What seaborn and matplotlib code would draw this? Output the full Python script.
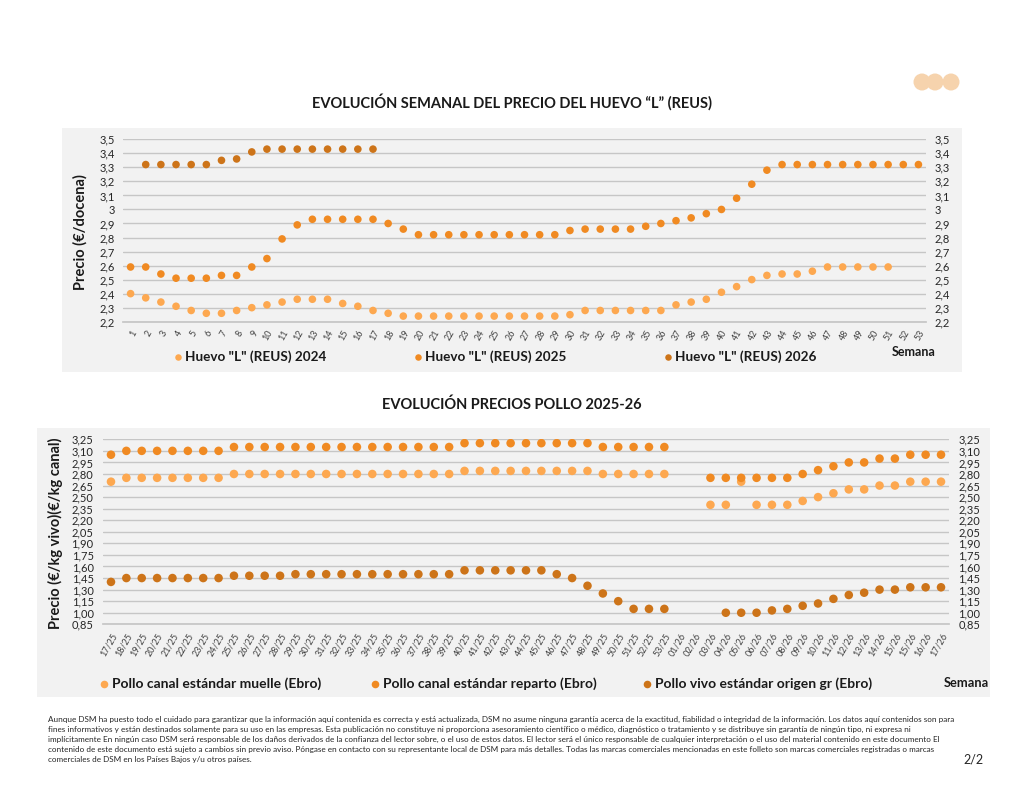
import numpy as np
import pandas as pd
import matplotlib.pyplot as plt
from matplotlib.patches import Rectangle, Circle
import seaborn as sns

nan = np.nan

# --- DATOS: HUEVO "L" (REUS) ---
semanas = [str(i) for i in range(1, 54)]
huevo_2024 = [2.40, 2.37, 2.34, 2.31, 2.28, 2.26, 2.26, 2.28, 2.30, 2.32, 2.34, 2.36, 2.36, 2.36, 2.33, 2.31, 2.28, 2.26,
              2.24, 2.24, 2.24, 2.24, 2.24, 2.24, 2.24, 2.24, 2.24, 2.24, 2.24, 2.25,
              2.28, 2.28, 2.28, 2.28, 2.28, 2.28, 2.32, 2.34, 2.36, 2.41, 2.45, 2.50, 2.53, 2.54, 2.54, 2.56,
              2.59, 2.59, 2.59, 2.59, 2.59, nan, nan]
huevo_2025 = [2.59, 2.59, 2.54, 2.51, 2.51, 2.51, 2.53, 2.53, 2.59, 2.65, 2.79, 2.89, 2.93, 2.93, 2.93, 2.93, 2.93,
              2.90, 2.86, 2.82, 2.82, 2.82, 2.82, 2.82, 2.82, 2.82, 2.82, 2.82, 2.82, 2.85,
              2.86, 2.86, 2.86, 2.86, 2.88, 2.90, 2.92, 2.94, 2.97, 3.00, 3.08, 3.18, 3.28,
              3.32, 3.32, 3.32, 3.32, 3.32, 3.32, 3.32, 3.32, 3.32, 3.32]
huevo_2026 = [nan, 3.32, 3.32, 3.32, 3.32, 3.32, 3.35, 3.36, 3.41, 3.43, 3.43, 3.43, 3.43, 3.43, 3.43, 3.43, 3.43] + [nan] * 36
huevo_series = ['Huevo "L" (REUS) 2024', 'Huevo "L" (REUS) 2025', 'Huevo "L" (REUS) 2026']
huevo_yticks = [2.2, 2.3, 2.4, 2.5, 2.6, 2.7, 2.8, 2.9, 3.0, 3.1, 3.2, 3.3, 3.4, 3.5]
huevo_ylabels = ["2,2", "2,3", "2,4", "2,5", "2,6", "2,7", "2,8", "2,9", "3", "3,1", "3,2", "3,3", "3,4", "3,5"]

# --- DATOS: POLLO 2025-26 ---
semanas_pollo = ["17/25", "18/25", "19/25", "20/25", "21/25", "22/25", "23/25", "24/25", "25/25", "26/25",
                 "27/25", "28/25", "29/25", "30/25", "31/25", "32/25", "33/25", "34/25", "35/25", "36/25",
                 "37/25", "38/25", "39/25", "40/25", "41/25", "42/25", "43/25", "44/25", "45/25", "46/25",
                 "47/25", "48/25", "49/25", "50/25", "51/25", "52/25", "53/25", "01/26", "02/26", "03/26",
                 "04/26", "05/26", "06/26", "07/26", "08/26", "09/26", "10/26", "11/26", "12/26", "13/26",
                 "14/26", "15/26", "15/26", "16/26", "17/26"]
pollo_muelle = [2.70, 2.75, 2.75, 2.75, 2.75, 2.75, 2.75, 2.75,
                2.80, 2.80, 2.80, 2.80, 2.80, 2.80, 2.80, 2.80, 2.80, 2.80, 2.80, 2.80, 2.80, 2.80, 2.80,
                2.84, 2.84, 2.84, 2.84, 2.84, 2.84, 2.84, 2.84, 2.84,
                2.80, 2.80, 2.80, 2.80, 2.80, nan, nan,
                2.40, 2.40, 2.70, 2.40, 2.40, 2.40, 2.45, 2.50, 2.55, 2.60, 2.60, 2.65, 2.65, 2.70, 2.70, 2.70]
pollo_reparto = [3.05, 3.10, 3.10, 3.10, 3.10, 3.10, 3.10, 3.10,
                 3.15, 3.15, 3.15, 3.15, 3.15, 3.15, 3.15, 3.15, 3.15, 3.15, 3.15, 3.15, 3.15, 3.15, 3.15,
                 3.20, 3.20, 3.20, 3.20, 3.20, 3.20, 3.20, 3.20, 3.20,
                 3.15, 3.15, 3.15, 3.15, 3.15, nan, nan,
                 2.75, 2.75, 2.75, 2.75, 2.75, 2.75, 2.80, 2.85, 2.90, 2.95, 2.95, 3.00, 3.00, 3.05, 3.05, 3.05]
pollo_vivo = [1.40, 1.45, 1.45, 1.45, 1.45, 1.45, 1.45, 1.45, 1.48, 1.48, 1.48, 1.48,
              1.50, 1.50, 1.50, 1.50, 1.50, 1.50, 1.50, 1.50, 1.50, 1.50, 1.50,
              1.55, 1.55, 1.55, 1.55, 1.55, 1.55, 1.50, 1.45, 1.35, 1.25, 1.15, 1.05, 1.05, 1.05,
              nan, nan, nan,
              1.00, 1.00, 1.00, 1.03, 1.05, 1.09, 1.12, 1.18, 1.23, 1.26, 1.30, 1.30, 1.33, 1.33, 1.33]
pollo_series = ["Pollo canal estándar muelle (Ebro)", "Pollo canal estándar reparto (Ebro)",
                "Pollo vivo estándar origen gr (Ebro)"]
pollo_yticks = [0.85, 1.00, 1.15, 1.30, 1.45, 1.60, 1.75, 1.90, 2.05, 2.20, 2.35, 2.50, 2.65, 2.80, 2.95, 3.10, 3.25]
pollo_ylabels = ["0,85", "1,00", "1,15", "1,30", "1,45", "1,60", "1,75", "1,90", "2,05", "2,20", "2,35",
                 "2,50", "2,65", "2,80", "2,95", "3,10", "3,25"]

COLORES = ["#FDA850", "#F08A22", "#CD7419"]
GRIS_PANEL = "#F2F2F2"
GRIS_LINEA = "#C6C6C6"

FOOTER = ("Aunque DSM ha puesto todo el cuidado para garantizar que la información aquí contenida es correcta y está actualizada, DSM no asume ninguna garantía acerca de la exactitud, fiabilidad o integridad de la información. Los datos aquí contenidos son para\n"
          "fines informativos y están destinados solamente para su uso en las empresas. Esta publicación no constituye ni proporciona asesoramiento científico o médico, diagnóstico o tratamiento y se distribuye sin garantía de ningún tipo, ni expresa ni\n"
          "implícitamente En ningún caso DSM será responsable de los daños derivados de la confianza del lector sobre, o el uso de estos datos. El lector será el único responsable de cualquier interpretación o el uso del material contenido en este documento El\n"
          "contenido de este documento está sujeto a cambios sin previo aviso. Póngase en contacto con su representante local de DSM para más detalles. Todas las marcas comerciales mencionadas en este folleto son marcas comerciales registradas o marcas\n"
          "comerciales de DSM en los Países Bajos y/u otros países.")


def long_df(series_names, values_list):
    frames = []
    for name, vals in zip(series_names, values_list):
        frames.append(pd.DataFrame({"pos": np.arange(len(vals)), "valor": vals, "serie": name}))
    return pd.concat(frames, ignore_index=True).dropna()


def style_axis(ax, labels, yticks, ylabels, xfont):
    n = len(labels)
    ax.set_facecolor("none")
    ax.set_xlim(-0.5, n - 0.5)
    ax.set_ylim(yticks[0], yticks[-1])
    ax.set_xticks(range(n))
    ax.set_xticklabels(labels, rotation=60, ha="right", rotation_mode="anchor", fontsize=xfont, color="#404040")
    ax.set_xticks(np.arange(-0.5, n), minor=True)
    ax.tick_params(axis="x", which="major", length=0, pad=5)
    ax.tick_params(axis="x", which="minor", length=3, color=GRIS_LINEA, width=0.8)
    ax.set_yticks(yticks)
    ax.set_yticklabels(ylabels, fontsize=8, color="#262626")
    ax.tick_params(axis="y", length=0, labelleft=True, labelright=True, pad=6)
    ax.grid(axis="y", color=GRIS_LINEA, linewidth=1)
    ax.grid(axis="x", visible=False)
    ax.set_axisbelow(True)
    for s in ["top", "left", "right"]:
        ax.spines[s].set_visible(False)
    ax.spines["bottom"].set_color(GRIS_LINEA)
    ax.set_xlabel("")
    ax.set_ylabel("")


sns.set_theme(style="white")
plt.rcParams["font.family"] = ["Lato", "DejaVu Sans"]

fig = plt.figure(figsize=(10.24, 7.91), dpi=100)

# Capa de fondo en pixeles
bg = fig.add_axes([0, 0, 1, 1])
bg.set_xlim(0, 1024)
bg.set_ylim(791, 0)
bg.axis("off")
bg.add_patch(Rectangle((62, 128), 900, 244, facecolor=GRIS_PANEL, edgecolor="none"))
bg.add_patch(Rectangle((37, 428), 953, 269, facecolor=GRIS_PANEL, edgecolor="none"))
for cx in [922, 935, 951]:
    bg.add_patch(Circle((cx, 82), 8.5, facecolor="#F6D3AD", edgecolor="none"))

# --- Grafico 1: Huevo ---
ax1 = fig.add_axes([123 / 1024, 1 - 321.7 / 791, 803 / 1024, 182.4 / 791])
df_huevo = long_df(huevo_series, [huevo_2024, huevo_2025, huevo_2026])
sns.scatterplot(data=df_huevo, x="pos", y="valor", hue="serie", hue_order=huevo_series,
                palette=COLORES, s=30, linewidth=0, legend=False, ax=ax1)
style_axis(ax1, semanas, huevo_yticks, huevo_ylabels, 6.5)

# --- Grafico 2: Pollo ---
ax2 = fig.add_axes([103.3 / 1024, 1 - 624.3 / 791, 845.4 / 1024, 185 / 791])
df_pollo = long_df(pollo_series, [pollo_muelle, pollo_reparto, pollo_vivo])
sns.scatterplot(data=df_pollo, x="pos", y="valor", hue="serie", hue_order=pollo_series,
                palette=COLORES, s=38, linewidth=0, legend=False, ax=ax2)
style_axis(ax2, semanas_pollo, pollo_yticks, pollo_ylabels, 6.5)
ax2.tick_params(axis="y", pad=7)

# Titulos
bg.text(512, 102, "EVOLUCIÓN SEMANAL DEL PRECIO DEL HUEVO “L” (REUS)", ha="center", va="center",
        fontsize=10.5, fontweight="bold", color="#1a1a1a")
bg.text(512, 405, "EVOLUCIÓN PRECIOS POLLO 2025-26", ha="center", va="center",
        fontsize=10.5, fontweight="bold", color="#1a1a1a")

# Etiquetas de eje Y
bg.text(80, 232, "Precio (€/docena)", rotation=90, ha="center", va="center", fontsize=10.5,
        fontweight="bold", color="#1a1a1a")
bg.text(55, 533, "Precio (€/kg vivo)(€/kg canal)", rotation=90, ha="center", va="center", fontsize=10.5,
        fontweight="bold", color="#1a1a1a")

# Leyendas
for x, name, col in zip([178, 418, 668], huevo_series, COLORES):
    bg.scatter([x], [357], s=22, color=col, linewidth=0)
    bg.text(x + 7, 357, name, ha="left", va="center", fontsize=9.7, fontweight="bold", color="#1a1a1a")
bg.text(914, 352, "Semana", ha="center", va="center", fontsize=9, fontweight="bold", color="#1a1a1a")

for x, name, col in zip([104, 375, 647], pollo_series, COLORES):
    bg.scatter([x], [684], s=30, color=col, linewidth=0)
    bg.text(x + 8, 684, name, ha="left", va="center", fontsize=10, fontweight="bold", color="#1a1a1a")
bg.text(966, 683, "Semana", ha="center", va="center", fontsize=9.3, fontweight="bold", color="#1a1a1a")

# Pie de pagina
bg.text(48, 716, FOOTER, ha="left", va="top", fontsize=5.85, color="#262626", linespacing=1.5)
bg.text(973, 760, "2/2", ha="center", va="center", fontsize=9, color="#262626")

plt.savefig("out.png", dpi=100)
